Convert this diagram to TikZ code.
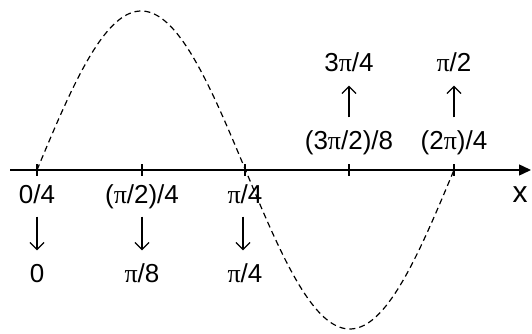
\documentclass[tikz,border=0pt]{standalone}
\usepackage{fontspec}
\setmainfont{Liberation Sans}
\newfontfamily\pifont{Liberation Serif}
\newcommand\PI{{\pifont π}}
\usetikzlibrary{arrows.meta}
\begin{document}
\begin{tikzpicture}[x=1pt,y=-1pt,
  lbl/.style={font=\fontsize{26}{30}\selectfont, inner xsep=0pt, inner ysep=13.5pt, text height=18pt, text depth=0pt},
  maparrow/.style={line width=1.2pt, -{Straight Barb[length=7pt,width=14pt,line width=1.2pt]}},
  tick/.style={line width=1.2pt}]
\useasboundingbox (0,0) rectangle (532,334);
% axis
\coordinate (axL) at (10,170);
\coordinate (axR) at (531,170);
\draw[line width=1.4pt, -{Triangle[length=12pt,width=11pt]}] (axL) -- (axR);
\node[font=\fontsize{30}{34}\selectfont, inner sep=0pt] (xl) at (520,195) {x};
% ticks
\foreach \t in {37,142,245,349,454} {
  \draw[tick] (\t,164) -- (\t,176);
}
% curve
\draw[dash pattern=on 6pt off 4pt, line width=1.2pt] plot[domain=37:454, samples=200, smooth] (\x, {170 - 159*sin(0.863309*(\x-37))});
% bottom labels
\node[lbl] (a1) at (37,194) {0/4};
\node[lbl] (a2) at (142,194) {(\PI/2)/4};
\node[lbl] (a3) at (245,194) {\PI/4};
\node[lbl] (b1) at (37,273) {0};
\node[lbl] (b2) at (142,273) {\PI/8};
\node[lbl] (b3) at (245,273) {\PI/4};
\draw[maparrow] (a1.south) -- (b1.north);
\draw[maparrow] (a2.south) -- (b2.north);
\draw[maparrow] (a3.south -| 243,0) -- (b3.north -| 243,0);
% top labels
\node[lbl] (c1) at (349,140) {(3\PI/2)/8};
\node[lbl] (c2) at (454,140) {(2\PI)/4};
\node[lbl] (d1) at (349,63) {3\PI/4};
\node[lbl] (d2) at (454,63) {\PI/2};
\draw[maparrow] (c1.north) -- (d1.south);
\draw[maparrow] (c2.north) -- (d2.south);
\end{tikzpicture}
\end{document}
